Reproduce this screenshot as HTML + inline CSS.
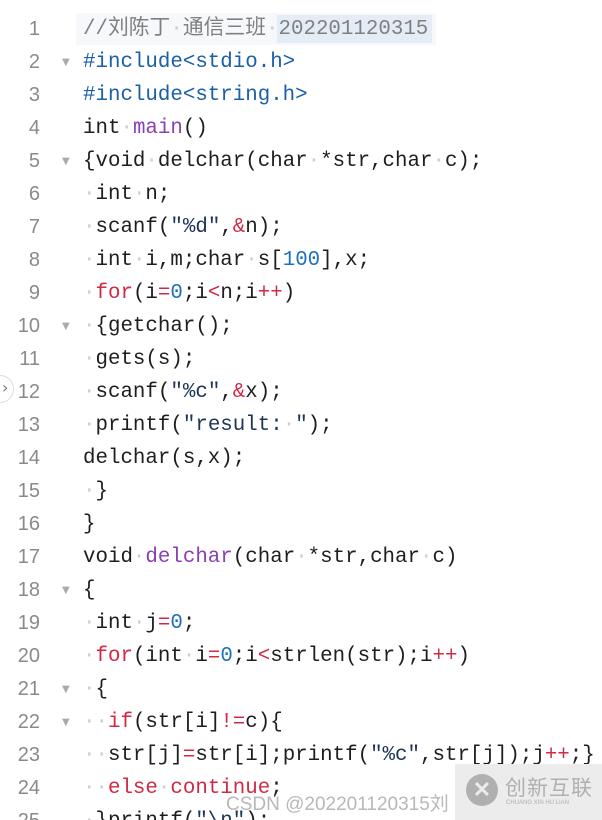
<!DOCTYPE html>
<html><head><meta charset="utf-8"><style>
html,body{margin:0;padding:0;background:#fff;width:602px;height:820px;overflow:hidden;position:relative}
.ln{position:absolute;left:0;width:40px;text-align:right;font-family:"Liberation Sans","DejaVu Sans",sans-serif;font-size:20px;color:#8a8a8a;height:33px;line-height:33px}
.c{position:absolute;left:83px;white-space:pre;font-family:"Liberation Mono","Noto Sans CJK SC",monospace;font-size:20.8px;color:#1e1e1e;height:33px;line-height:33px}
.f{position:absolute;left:62px;font-size:10px;color:#aaa;height:33px;line-height:33px;font-family:"DejaVu Sans",sans-serif}
.w{color:#cfcfcf}
.cm{color:#808080}
.pp{color:#1a5fa8}
.fn{color:#8a3fb3}
.k{color:#d02a45}
.n{color:#1f6fc0}
.s{color:#1d3557}
</style></head><body>
<div style="position:absolute;left:76px;top:13px;width:360px;height:32px;background:#f6f8fb"></div>
<div style="position:absolute;left:277px;top:15px;width:155px;height:28px;background:#e4edf6"></div>
<div style="position:absolute;left:-14px;top:375px;width:26px;height:26px;border:1px solid #ddd;border-radius:50%;background:#fff"></div>
<div style="position:absolute;left:2px;top:375px;font-size:16px;color:#777;line-height:26px;font-family:'DejaVu Sans',sans-serif">›</div>

<div class="ln" style="top:13px">1</div><div class="c" style="top:13px"><span class="cm" style="font-family:'Liberation Mono','Noto Sans CJK SC',monospace">//刘陈丁<span class="w">·</span>通信三班<span class="w">·</span>202201120315</span></div>
<div class="ln" style="top:46px">2</div><div class="f" style="top:46px">▼</div><div class="c pp" style="top:46px">#include&lt;stdio.h&gt;</div>
<div class="ln" style="top:79px">3</div><div class="c pp" style="top:79px">#include&lt;string.h&gt;</div>
<div class="ln" style="top:112px">4</div><div class="c" style="top:112px">int<span class="w">·</span><span class="fn">main</span>()</div>
<div class="ln" style="top:145px">5</div><div class="f" style="top:145px">▼</div><div class="c" style="top:145px">{void<span class="w">·</span>delchar(char<span class="w">·</span>*str,char<span class="w">·</span>c);</div>
<div class="ln" style="top:178px">6</div><div class="c" style="top:178px"><span class="w">·</span>int<span class="w">·</span>n;</div>
<div class="ln" style="top:211px">7</div><div class="c" style="top:211px"><span class="w">·</span>scanf(<span class="s">"%d"</span>,<span class="k">&amp;</span>n);</div>
<div class="ln" style="top:244px">8</div><div class="c" style="top:244px"><span class="w">·</span>int<span class="w">·</span>i,m;char<span class="w">·</span>s[<span class="n">100</span>],x;</div>
<div class="ln" style="top:277px">9</div><div class="c" style="top:277px"><span class="w">·</span><span class="k">for</span>(i<span class="k">=</span><span class="n">0</span>;i<span class="k">&lt;</span>n;i<span class="k">++</span>)</div>
<div class="ln" style="top:310px">10</div><div class="f" style="top:310px">▼</div><div class="c" style="top:310px"><span class="w">·</span>{getchar();</div>
<div class="ln" style="top:343px">11</div><div class="c" style="top:343px"><span class="w">·</span>gets(s);</div>
<div class="ln" style="top:376px">12</div><div class="c" style="top:376px"><span class="w">·</span>scanf(<span class="s">"%c"</span>,<span class="k">&amp;</span>x);</div>
<div class="ln" style="top:409px">13</div><div class="c" style="top:409px"><span class="w">·</span>printf(<span class="s">"result:<span class="w">·</span>"</span>);</div>
<div class="ln" style="top:442px">14</div><div class="c" style="top:442px">delchar(s,x);</div>
<div class="ln" style="top:475px">15</div><div class="c" style="top:475px"><span class="w">·</span>}</div>
<div class="ln" style="top:508px">16</div><div class="c" style="top:508px">}</div>
<div class="ln" style="top:541px">17</div><div class="c" style="top:541px">void<span class="w">·</span><span class="fn">delchar</span>(char<span class="w">·</span>*str,char<span class="w">·</span>c)</div>
<div class="ln" style="top:574px">18</div><div class="f" style="top:574px">▼</div><div class="c" style="top:574px">{</div>
<div class="ln" style="top:607px">19</div><div class="c" style="top:607px"><span class="w">·</span>int<span class="w">·</span>j<span class="k">=</span><span class="n">0</span>;</div>
<div class="ln" style="top:640px">20</div><div class="c" style="top:640px"><span class="w">·</span><span class="k">for</span>(int<span class="w">·</span>i<span class="k">=</span><span class="n">0</span>;i<span class="k">&lt;</span>strlen(str);i<span class="k">++</span>)</div>
<div class="ln" style="top:673px">21</div><div class="f" style="top:673px">▼</div><div class="c" style="top:673px"><span class="w">·</span>{</div>
<div class="ln" style="top:706px">22</div><div class="f" style="top:706px">▼</div><div class="c" style="top:706px"><span class="w">··</span><span class="k">if</span>(str[i]<span class="k">!=</span>c){</div>
<div class="ln" style="top:739px">23</div><div class="c" style="top:739px"><span class="w">··</span>str[j]<span class="k">=</span>str[i];printf(<span class="s">"%c"</span>,str[j]);j<span class="k">++</span>;}</div>
<div class="ln" style="top:772px">24</div><div class="c" style="top:772px"><span class="w">··</span><span class="k">else</span><span class="w">·</span><span class="k">continue</span>;</div>
<div class="ln" style="top:805px">25</div><div class="c" style="top:805px"><span class="w">·</span>}printf(<span class="s">"\n"</span>);</div>

<div style="position:absolute;left:226px;top:789px;font-family:'Liberation Sans','Noto Sans CJK SC',sans-serif;font-size:19px;color:#b8b8b8;white-space:pre">CSDN @202201120315刘</div>
<div style="position:absolute;left:455px;top:764px;width:147px;height:56px;background:#ececec"></div>
<div style="position:absolute;left:466px;top:774px;width:32px;height:32px;border-radius:50%;background:#b0b0b0;color:#ececec;font:bold 22px/32px 'Liberation Sans',sans-serif;text-align:center">✕</div>
<div style="position:absolute;left:505px;top:774px;font-family:'Noto Sans CJK SC',sans-serif;font-size:21px;color:#b0b0b0;line-height:26px;letter-spacing:1px">创新互联</div>
<div style="position:absolute;left:506px;top:800px;font-family:'Liberation Sans',sans-serif;font-size:6px;color:#b0b0b0">CHUANG XIN HU LIAN</div>
</body></html>
